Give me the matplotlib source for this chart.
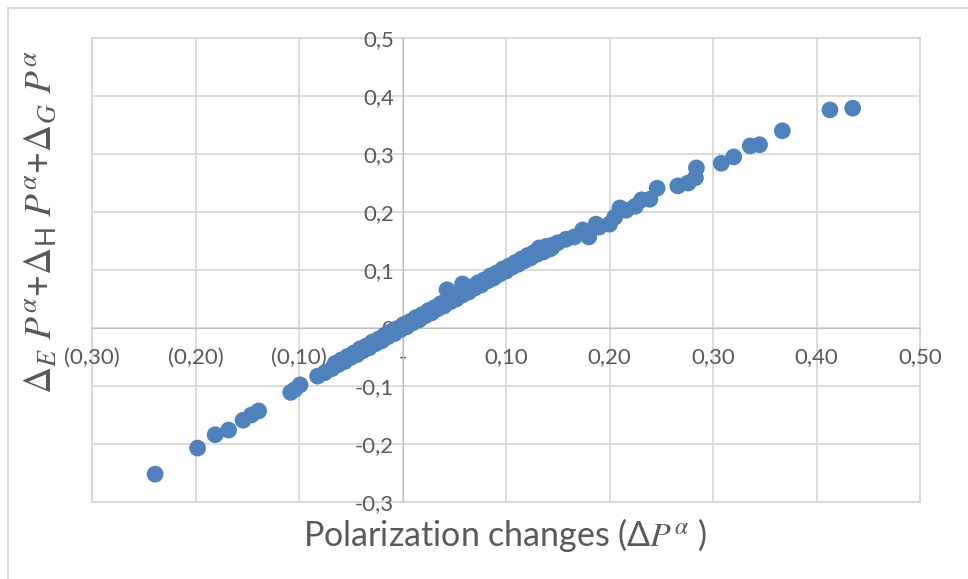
import matplotlib
matplotlib.use("Agg")
import matplotlib.pyplot as plt
from matplotlib.patches import Rectangle
from matplotlib.lines import Line2D

plt.rcParams['font.family'] = ['Lato', 'DejaVu Sans']
plt.rcParams['mathtext.fontset'] = 'stix'

# polarization changes (x) and summed contributions (y)
tail_x = [-0.239, -0.198, -0.181, -0.168, -0.154, -0.146, -0.139, -0.108, -0.104,
          -0.099, -0.082, -0.075]
tail_y = [-0.252, -0.207, -0.184, -0.176, -0.159, -0.150, -0.143, -0.111, -0.106,
          -0.098, -0.083, -0.077]

band_x = [-0.068, -0.062, -0.056, -0.050, -0.044, -0.038, -0.032, -0.026, -0.020,
          -0.014, -0.008, -0.002, 0.004, 0.010, 0.016, 0.022, 0.028, 0.034, 0.040,
          0.046, 0.052, 0.058, 0.064, 0.070, 0.076, 0.082, 0.088, 0.094, 0.100,
          0.106, 0.112, 0.118, 0.124, 0.130, 0.136, 0.142]
band_y = [-0.070, -0.063, -0.058, -0.051, -0.046, -0.039, -0.034, -0.027, -0.022,
          -0.015, -0.010, -0.003, 0.002, 0.009, 0.014, 0.021, 0.026, 0.033, 0.038,
          0.045, 0.050, 0.057, 0.062, 0.069, 0.074, 0.081, 0.086, 0.093, 0.098,
          0.105, 0.110, 0.116, 0.121, 0.127, 0.131, 0.136]
band2_x = [-0.065, -0.059, -0.053, -0.047, -0.041, -0.035, -0.029, -0.023, -0.017,
           -0.011, -0.005, 0.001, 0.007, 0.013, 0.019, 0.025, 0.031, 0.037, 0.043,
           0.049, 0.055, 0.061, 0.067, 0.073, 0.079, 0.085, 0.091, 0.097, 0.103,
           0.109, 0.115, 0.121, 0.127, 0.133, 0.139, 0.145]
band2_y = [-0.061, -0.055, -0.049, -0.043, -0.036, -0.031, -0.024, -0.019, -0.012,
           -0.006, -0.001, 0.006, 0.011, 0.018, 0.023, 0.030, 0.035, 0.042, 0.047,
           0.054, 0.059, 0.066, 0.071, 0.078, 0.083, 0.090, 0.095, 0.102, 0.107,
           0.113, 0.119, 0.125, 0.130, 0.135, 0.141, 0.143]

high_x = [0.043, 0.058, 0.132, 0.144, 0.150, 0.158, 0.166, 0.174, 0.180, 0.187, 0.190,
          0.200, 0.205, 0.210, 0.216, 0.225, 0.231, 0.239, 0.246, 0.266, 0.276, 0.283,
          0.284, 0.308, 0.320, 0.336, 0.345, 0.367, 0.413, 0.435]
high_y = [0.066, 0.076, 0.138, 0.138, 0.147, 0.153, 0.157, 0.169, 0.157, 0.179, 0.174,
          0.179, 0.191, 0.207, 0.203, 0.210, 0.221, 0.222, 0.241, 0.245, 0.250, 0.259,
          0.276, 0.284, 0.295, 0.314, 0.316, 0.340, 0.376, 0.379]

x_ticks = [-0.3, -0.2, -0.1, 0.0, 0.1, 0.2, 0.3, 0.4, 0.5]
x_labels = ['(0,30)', '(0,20)', '(0,10)', '-', '0,10', '0,20', '0,30', '0,40', '0,50']
y_ticks = [-0.3, -0.2, -0.1, 0.0, 0.1, 0.2, 0.3, 0.4, 0.5]
y_labels = ['-0,3', '-0,2', '-0,1', '0', '0,1', '0,2', '0,3', '0,4', '0,5']

blue = '#4F81BD'
grid_c = '#D9D9D9'
txt_c = '#595959'

fig = plt.figure(figsize=(9.68, 5.79), dpi=100)
ax = fig.add_axes([92/968, 1-502/579, (920-92)/968, (502-38)/579])

xs = tail_x + band_x + band2_x + high_x
ys = tail_y + band_y + band2_y + high_y
ax.scatter(xs, ys, s=145, color=blue, edgecolors='none', zorder=3, clip_on=False)

ax.set_xlim(-0.3, 0.5)
ax.set_ylim(-0.3, 0.5)
ax.set_xticks(x_ticks)
ax.set_xticklabels(x_labels)
ax.set_yticks(y_ticks)
ax.set_yticklabels(y_labels)
ax.grid(True, color=grid_c, lw=1.3)
ax.set_axisbelow(True)

for s in ['top', 'right']:
    ax.spines[s].set_visible(False)
ax.spines['bottom'].set_position(('data', 0))
ax.spines['left'].set_position(('data', 0))
ax.spines['bottom'].set_color('#BFBFBF')
ax.spines['left'].set_color('#BFBFBF')
ax.tick_params(length=0, labelsize=16, colors=txt_c)
ax.tick_params(axis='x', pad=14)
ax.tick_params(axis='y', pad=6)

ax.add_patch(Rectangle((0, 0), 1, 1, transform=ax.transAxes, fill=False,
                       ec=grid_c, lw=1.5, clip_on=False, zorder=0.5))

fig.text(505/968, 1-535/579, r'Polarization changes (Δ$P^{\alpha}$ )',
         ha='center', va='center', fontsize=24.5, color=txt_c)
fig.text(40/968, 1-222/579,
         r'$\Delta_E\ P^{\alpha}$+$\Delta_{\mathregular{H}}\ P^{\alpha}$+$\Delta_G\ P^{\alpha}$',
         ha='center', va='center', rotation=90, fontsize=27, color=txt_c)

fig.add_artist(Line2D([8/968, 1], [1-8/579, 1-8/579], color=grid_c, lw=1.5))
fig.add_artist(Line2D([8/968, 8/968], [0, 1-8/579], color=grid_c, lw=1.5))

fig.savefig('out.png', dpi=100)
